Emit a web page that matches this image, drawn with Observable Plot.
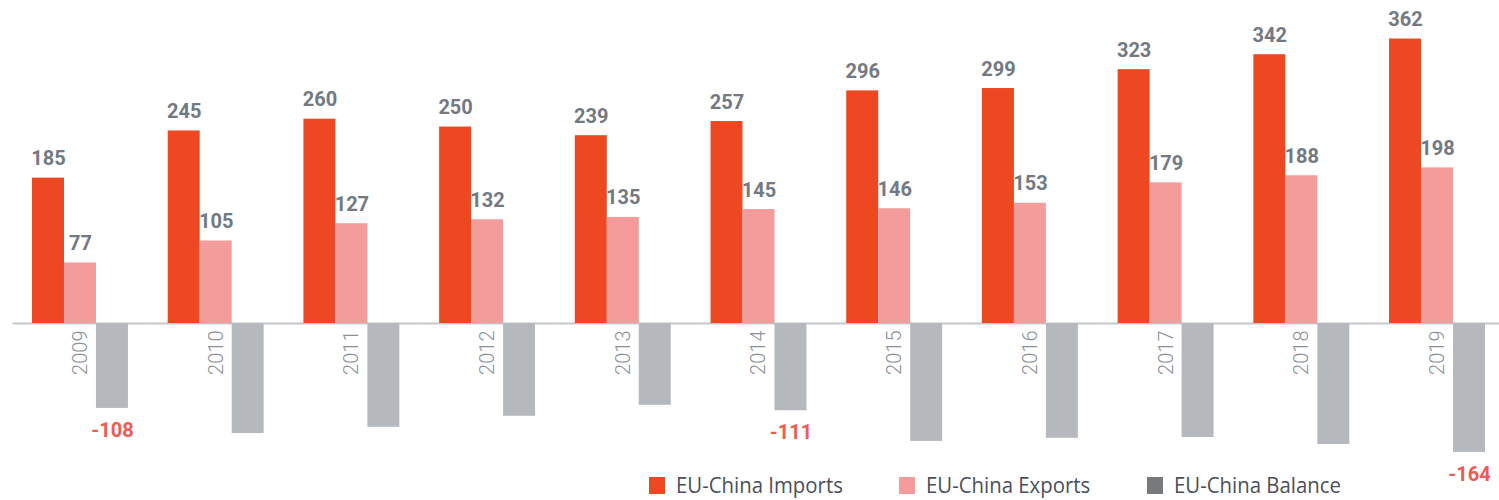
<!DOCTYPE html>
<html>
<head>
<meta charset="utf-8">
<script src="https://cdn.jsdelivr.net/npm/d3@7"></script>
<script src="https://cdn.jsdelivr.net/npm/@observablehq/plot@0.6"></script>
<style>
  html, body { margin: 0; padding: 0; background: #fff; }
  #chart svg { overflow: visible; display: block; }
  .legend { display: flex; height: 30px; margin-top: 0px; padding-left: 649px;
    font-family: "Open Sans", "Liberation Sans", sans-serif;
    font-size: 21px; color: #4a4f5a; align-items: center; white-space: nowrap; }
  .legend .item { display: flex; align-items: center; flex: none; }
  .legend .sw { width: 16px; height: 17px; margin-right: 11px; flex: none; }
  .legend .lbl { display: inline-block; transform: scaleX(0.97); transform-origin: left center; }
</style>
</head>
<body>
<div id="chart"></div>
<div class="legend" id="legend"></div>
<script>
const years = [2009, 2010, 2011, 2012, 2013, 2014, 2015, 2016, 2017, 2018, 2019];
const imports = [185, 245, 260, 250, 239, 257, 296, 299, 323, 342, 362];
const exportsV = [77, 105, 127, 132, 135, 145, 146, 153, 179, 188, 198];
const balance = [-108, -140, -132, -118, -104, -111, -150, -146, -145, -154, -164];
const labeledBalanceYears = [2009, 2014, 2019];
const seriesNames = ["EU-China Imports", "EU-China Exports", "EU-China Balance"];
const barColors = ["#ee4823", "#f49b9b", "#b5b9bd"];
const legendColors = ["#ee4823", "#f49b9b", "#767a7c"];

const data = years.flatMap((yr, i) => [
  {year: yr, series: seriesNames[0], value: imports[i]},
  {year: yr, series: seriesNames[1], value: exportsV[i]},
  {year: yr, series: seriesNames[2], value: balance[i]}
]);
const yearLabels = years.map(yr => ({year: yr, series: seriesNames[1]}));

const chart = Plot.plot({
  width: 1499,
  height: 470,
  marginTop: 0,
  marginBottom: 0,
  marginLeft: 32,
  marginRight: 14,
  fx: {domain: years, axis: null, paddingInner: 0.293, paddingOuter: 0, round: false},
  x: {domain: seriesNames, axis: null, padding: 0, round: false},
  y: {domain: [-187, 411], axis: null},
  color: {domain: seriesNames, range: barColors},
  style: {fontFamily: "Roboto, 'DejaVu Sans', sans-serif"},
  marks: [
    Plot.ruleY([0], {stroke: "#c5c8cb", strokeWidth: 2, insetLeft: -19.5, insetRight: -20.5}),
    Plot.barY(data, {fx: "year", x: "series", y: "value", fill: "series"}),
    Plot.text(data.filter(d => d.value > 0), {
      fx: "year", x: "series", y: "value", text: d => String(d.value),
      lineAnchor: "bottom", dy: -13, fill: "#737982", fontSize: 20, fontWeight: "bold"
    }),
    Plot.text(data.filter(d => d.value < 0 && labeledBalanceYears.includes(d.year)), {
      fx: "year", x: "series", y: "value", text: d => String(d.value),
      lineAnchor: "top", dy: 14, fill: "#f25a4f", fontSize: 20, fontWeight: "bold"
    }),
    Plot.text(yearLabels, {
      fx: "year", x: "series", y: () => 0, text: d => String(d.year),
      rotate: -90, textAnchor: "end", dy: 7, fill: "#8a9098", fontSize: 20, fontWeight: 300
    })
  ]
});
document.getElementById("chart").appendChild(chart);

const legend = document.getElementById("legend");
const itemWidths = [250, 248, 220];
seriesNames.forEach((name, i) => {
  const item = document.createElement("div");
  item.className = "item";
  item.style.width = itemWidths[i] + "px";
  const sw = document.createElement("div");
  sw.className = "sw";
  sw.style.background = legendColors[i];
  const t = document.createElement("span");
  t.className = "lbl";
  t.textContent = name;
  item.appendChild(sw);
  item.appendChild(t);
  legend.appendChild(item);
});
</script>
</body>
</html>
